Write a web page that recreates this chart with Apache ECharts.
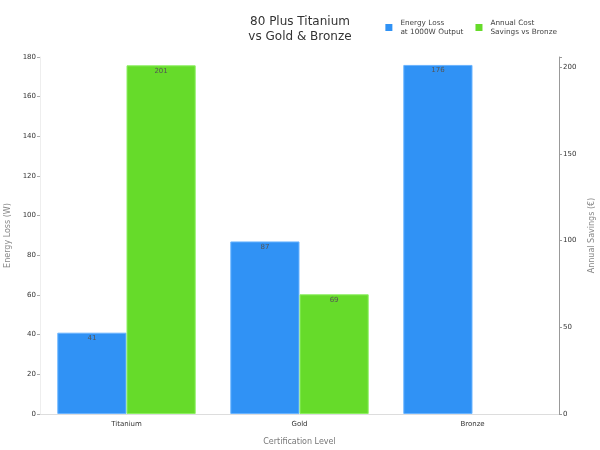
<!DOCTYPE html>
<html><head><meta charset="utf-8">
<script src="https://cdn.jsdelivr.net/npm/echarts@6/dist/echarts.min.js"></script>
<style>html,body{margin:0;padding:0;background:#fff}#c{width:600px;height:450px}</style>
</head><body><div id="c"></div>
<script>
const categories = ['Titanium', 'Gold', 'Bronze'];
const energyLoss = [41, 87, 176];
const annualSavings = [201, 69, 0];
const leftTicks = [0, 20, 40, 60, 80, 100, 120, 140, 160, 180];
const rightTicks = [0, 50, 100, 150, 200];

const chart = echarts.init(document.getElementById('c'));
const font = 'DejaVu Sans';
chart.setOption({
  animation: false,
  textStyle: { fontFamily: font },
  title: {
    text: '80 Plus Titanium\nvs Gold & Bronze',
    left: 'center', top: 9,
    textStyle: { fontSize: 12, fontWeight: 'normal', color: '#333', lineHeight: 15, fontFamily: font }
  },
  legend: {
    right: 38, top: 13, itemWidth: 7, itemHeight: 7, itemGap: 12,
    icon: 'rect',
    itemStyle: { borderWidth: 0 },
    textStyle: { fontSize: 7.3, color: '#444', lineHeight: 9.5, fontFamily: font, padding: [0, 0, 0, 3] },
    data: ['Energy Loss\nat 1000W Output', 'Annual Cost\nSavings vs Bronze']
  },
  grid: { left: 40, right: 41, top: 57, bottom: 36, outerBoundsMode: 'none', containLabel: false },
  xAxis: {
    type: 'category', data: categories,
    name: 'Certification Level', nameLocation: 'middle', nameGap: 24,
    nameTextStyle: { fontSize: 8, color: '#777' },
    axisLine: { lineStyle: { color: '#ddd' } },
    axisTick: { alignWithLabel: true, lineStyle: { color: '#bbb' }, length: 4 },
    axisLabel: { fontSize: 7, color: '#333', margin: 7 }
  },
  yAxis: [
    {
      type: 'value', min: 0, max: 180, interval: 20,
      name: 'Energy Loss (W)', nameLocation: 'middle', nameGap: 27,
      nameTextStyle: { fontSize: 8, color: '#888' },
      axisLine: { show: true, lineStyle: { color: '#eee' } },
      axisTick: { show: true, length: 3, lineStyle: { color: '#aaa' } },
      axisLabel: { fontSize: 7, color: '#333', margin: 4 },
      splitLine: { show: false }
    },
    {
      type: 'value', min: 0, max: 205.8, interval: 50,
      name: 'Annual Savings (€)', nameLocation: 'middle', nameGap: 29,
      nameTextStyle: { fontSize: 8, color: '#888' },
      axisLine: { show: true, lineStyle: { color: '#999' } },
      axisTick: { show: true, length: 3, lineStyle: { color: '#999' } },
      axisLabel: { fontSize: 7, color: '#333', margin: 4,
        formatter: v => rightTicks.includes(v) ? String(v) : '' },
      splitLine: { show: false }
    }
  ],
  series: [
    {
      name: 'Energy Loss\nat 1000W Output', type: 'bar', yAxisIndex: 0,
      data: energyLoss, barGap: '0%', barCategoryGap: '20%',
      itemStyle: { color: '#3092f5', borderColor: '#6ab4ff', borderWidth: 1 },
      label: { show: true, position: 'insideTop', fontSize: 7, color: '#555', offset: [0, -3] }
    },
    {
      name: 'Annual Cost\nSavings vs Bronze', type: 'bar', yAxisIndex: 1,
      data: annualSavings.map(v => v === 0 ? null : v), barGap: '0%', barCategoryGap: '20%',
      itemStyle: { color: '#66db2a', borderColor: '#8cf060', borderWidth: 1 },
      label: { show: true, position: 'insideTop', fontSize: 7, color: '#555', offset: [0, -3] }
    }
  ]
});
</script></body></html>
